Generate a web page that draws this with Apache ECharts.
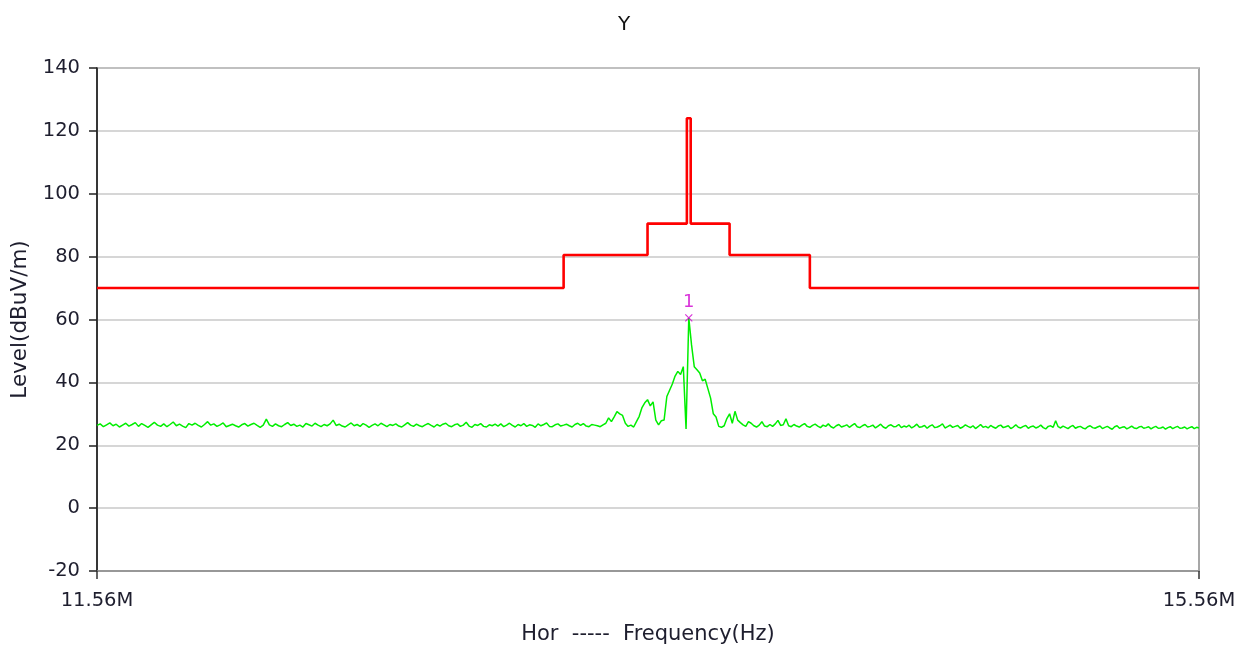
<!DOCTYPE html>
<html>
<head>
<meta charset="utf-8">
<script src="https://cdn.jsdelivr.net/npm/echarts@6/dist/echarts.min.js"></script>
<style>
html,body{margin:0;padding:0;background:#fff;}
#chart{width:1248px;height:646px;}
</style>
</head>
<body>
<div id="chart"></div>
<script>
// ---- data ----
const chartTitle = 'Y';
const yTickValues = [-20, 0, 20, 40, 60, 80, 100, 120, 140];
const xTickLabelsMHz = [11.56, 15.56];

// limit line (MHz, dBuV/m)
const limitFreqMHz = [11.56, 13.11, 13.11, 13.41, 13.41, 13.553, 13.553, 13.567, 13.567, 13.71, 13.71, 14.01, 14.01, 15.56];
const limitLevel   = [70, 70, 80.5, 80.5, 90.5, 90.5, 124, 124, 90.5, 90.5, 80.5, 80.5, 70, 70];

// measured trace: start 11.56 MHz, step 0.01 MHz
const traceStartMHz = 11.56;
const traceStepMHz = 0.01;
const traceLevel = [
26.3,26.8,25.9,26.5,27.1,26.2,26.7,25.8,26.4,27.0,26.1,26.6,
27.2,26.0,26.9,26.3,25.7,26.5,27.3,26.4,26.0,26.8,25.9,26.6,
27.4,26.2,26.7,26.1,25.6,26.9,26.4,27.0,26.3,25.8,26.6,27.5,
26.4,26.8,26.0,26.5,27.1,25.9,26.3,26.7,26.2,25.8,26.5,26.9,
26.1,26.6,27.0,26.3,25.7,26.4,28.3,26.5,26.0,26.8,26.2,25.9,
26.6,27.2,26.3,26.7,26.0,26.4,25.8,26.9,26.5,26.1,27.0,26.4,
25.9,26.6,26.2,26.8,28.0,26.3,26.7,26.1,25.8,26.5,27.1,26.2,
26.6,26.0,26.9,26.4,25.7,26.3,26.8,26.2,27.0,26.5,25.9,26.6,
26.3,26.8,26.1,25.8,26.5,27.2,26.4,26.0,26.7,26.2,25.9,26.5,
26.9,26.3,25.8,26.6,26.1,26.7,27.0,26.2,25.9,26.5,26.8,26.0,
26.4,27.3,26.1,25.7,26.6,26.3,26.9,26.0,25.8,26.5,26.2,26.7,
26.1,26.8,25.9,26.4,27.0,26.3,25.8,26.6,26.2,26.9,26.0,26.5,
26.3,25.7,26.8,26.2,26.6,27.1,26.0,25.9,26.5,26.8,26.1,26.4,
26.7,26.2,25.8,26.6,27.0,26.3,26.9,26.1,25.9,26.6,26.4,26.2,
25.9,26.5,27.0,28.7,27.5,29.0,30.7,30.0,29.5,27.0,26.0,26.4,
25.8,27.5,29.2,32.0,33.5,34.5,32.5,33.8,28.0,26.5,27.8,28.0,
35.5,37.5,39.5,42.0,43.5,42.5,45.0,25.2,60.5,52.0,45.0,44.0,
43.0,40.5,41.0,38.0,35.0,30.0,29.0,26.0,25.7,26.2,28.5,30.0,
27.0,30.8,28.0,27.2,26.5,26.0,27.5,
27.0,26.2,25.8,26.4,27.5,26.1,25.9,26.6,26.0,26.8,27.9,26.3,
26.5,28.4,26.2,25.9,26.6,26.1,25.8,26.4,26.9,26.0,25.7,26.3,
26.7,26.1,25.6,26.4,26.0,26.8,25.9,25.5,26.2,26.6,25.8,26.1,
26.5,25.7,26.3,26.9,25.9,25.6,26.2,26.6,25.8,26.0,26.4,25.5,
26.1,26.7,25.8,25.4,26.2,26.5,25.9,26.0,26.6,25.6,26.1,25.8,
26.4,25.5,26.0,26.7,25.7,25.9,26.3,25.4,26.1,26.5,25.6,25.8,
26.2,26.8,25.5,25.9,26.4,25.7,26.0,26.3,25.4,25.8,26.5,26.0,
25.6,26.2,25.3,25.9,26.6,25.7,26.0,25.5,26.3,25.8,25.4,26.1,
26.4,25.6,25.9,26.2,25.3,25.8,26.5,25.7,25.5,26.0,26.3,25.4,
25.9,26.1,25.5,25.8,26.4,25.6,25.2,26.0,26.2,25.7,27.8,25.9,
25.5,26.1,25.7,25.3,25.9,26.3,25.4,25.8,26.0,25.5,25.2,25.9,
26.2,25.6,25.4,25.8,26.1,25.3,25.7,26.0,25.5,25.1,25.9,26.2,
25.4,25.7,25.9,25.2,25.6,26.1,25.5,25.3,25.8,26.0,25.4,25.6,
25.9,25.2,25.7,26.0,25.4,25.5,25.8,25.1,25.6,25.9,25.3,25.7,
26.0,25.4,25.5,25.8,25.2,25.6,25.9,25.3,25.7,25.5
];

// marker 1
const markerFreqMHz = 13.56;
const markerLevel = 60.5;
const markerLabel = '1';

// ---- build ----
const MHz = 1e6;
const limitData = limitFreqMHz.map((f, i) => [f * MHz, limitLevel[i]]);
const traceData = traceLevel.map((v, i) => [Math.round((traceStartMHz + i * traceStepMHz) * 1000) / 1000 * MHz, v]);
const xTicks = xTickLabelsMHz.map(f => f * MHz);

const fontFam = 'DejaVu Sans, Verdana, sans-serif';
const textCol = '#1e1e2e';
const chart = echarts.init(document.getElementById('chart'), null, {renderer: 'canvas'});
chart.setOption({
  animation: false,
  backgroundColor: '#ffffff',
  title: {
    text: chartTitle, left: 'center', top: 10,
    textStyle: {fontFamily: fontFam, fontSize: 20, fontWeight: 'normal', color: '#111'}
  },
  grid: {left: 97, right: 49, top: 68, bottom: 75, show: true, borderColor: '#8a8a8a', borderWidth: 1.5,
         backgroundColor: 'transparent', containLabel: false, outerBoundsMode: 'none'},
  xAxis: {
    type: 'log', logBase: 10,
    min: xTicks[0], max: xTicks[xTicks.length - 1],
    name: 'Hor  -----  Frequency(Hz)', nameLocation: 'middle', nameGap: 53,
    nameTextStyle: {fontFamily: fontFam, fontSize: 21, color: textCol},
    splitLine: {show: false},
    minorTick: {show: false},
    axisLine: {show: true, onZero: false, lineStyle: {color: '#8a8a8a', width: 1.5}},
    axisTick: {show: true, customValues: xTicks, length: 8, lineStyle: {color: '#333', width: 1.5}},
    axisLabel: {
      customValues: xTicks, margin: 20,
      fontFamily: fontFam, fontSize: 19.5, color: textCol,
      formatter: v => (v / MHz).toFixed(2) + 'M'
    }
  },
  yAxis: {
    type: 'value', min: -20, max: 140, interval: 20,
    name: 'Level(dBuV/m)', nameLocation: 'middle', nameGap: 64, nameRotate: 90,
    nameTextStyle: {fontFamily: fontFam, fontSize: 21.5, color: textCol},
    axisLine: {show: true, onZero: false, lineStyle: {color: '#111', width: 1.5}},
    axisTick: {show: true, length: 8, lineStyle: {color: '#222', width: 1.5}},
    axisLabel: {fontFamily: fontFam, fontSize: 19.5, color: textCol, margin: 17},
    splitLine: {show: true, lineStyle: {color: '#c8c8c8', width: 1.5}}
  },
  series: [
    {
      type: 'line', name: 'Limit', data: limitData, showSymbol: false, symbol: 'none',
      lineStyle: {color: '#ff0000', width: 2.6}, z: 3
    },
    {
      type: 'line', name: 'Trace', data: traceData, showSymbol: false, symbol: 'none',
      lineStyle: {color: '#00ee00', width: 1.5}, z: 4
    },
    {
      type: 'scatter', name: 'Marker', data: [[markerFreqMHz * MHz, markerLevel]],
      symbol: 'path://M0,0 L10,10 M10,0 L0,10', symbolSize: 7,
      itemStyle: {color: 'none', borderColor: '#d000d0', borderWidth: 1.2},
      label: {show: true, formatter: markerLabel, position: 'top', distance: 1,
              fontFamily: fontFam, fontSize: 18, color: '#d000d0'},
      z: 5
    }
  ]
});
</script>
</body>
</html>
